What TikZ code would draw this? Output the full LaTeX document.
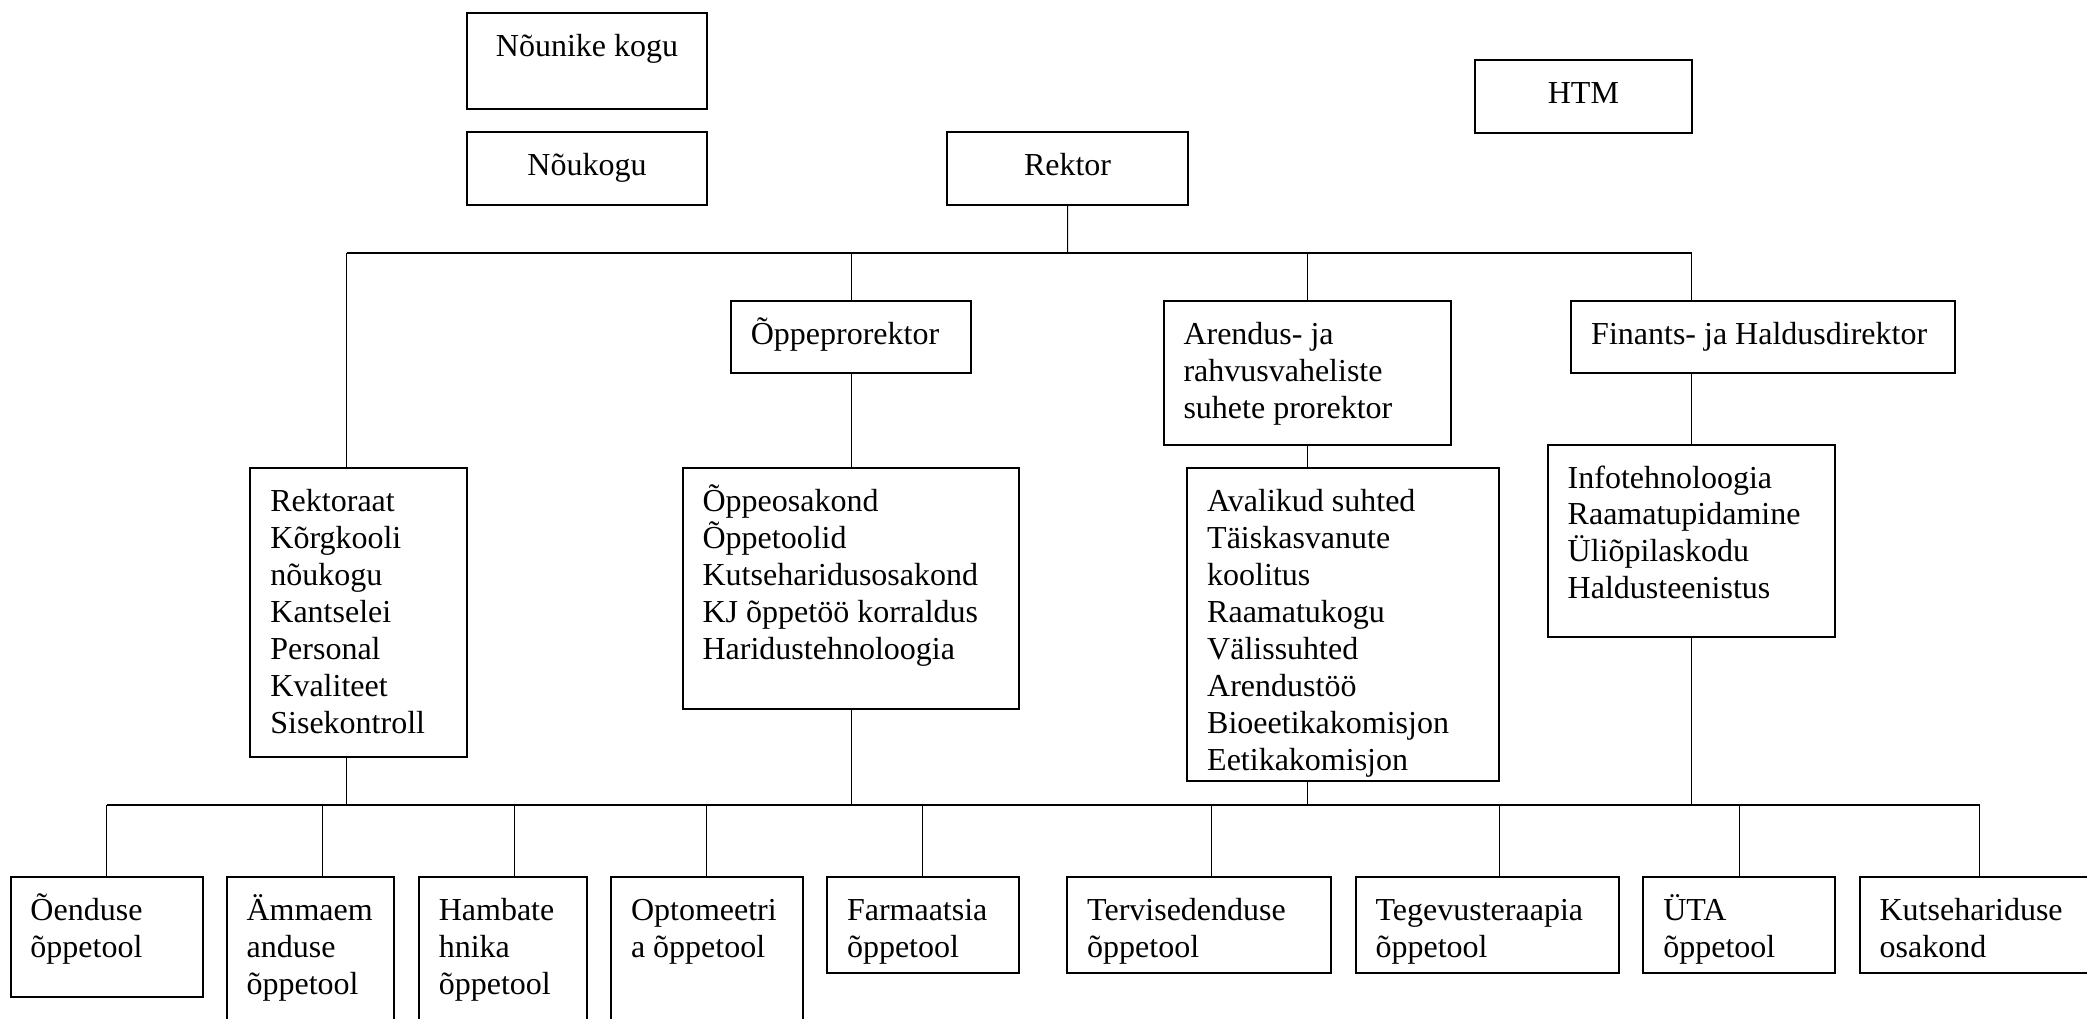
\documentclass[tikz,border=0pt]{standalone}
\usepackage{fontspec}
\setmainfont{Liberation Serif}
\usetikzlibrary{calc}
\tikzset{
  box/.style={draw, line width=1pt, inner sep=0pt, outer sep=0pt, anchor=north west},
  txt/.style={inner sep=0pt, outer sep=0pt, anchor=base west},
  ctxt/.style={inner sep=0pt, outer sep=0pt, anchor=base},
  stem/.style={line width=0.5pt},
  bus/.style={line width=1pt},
}
\newcommand\obox[5]{\node[box, minimum width={(#4-#2)*0.5pt}, minimum height={(#5-#3)*0.5pt}] (#1) at (#2,#3) {};}
\newcommand\mlines[1]{\parbox[t]{9cm}{\raggedright\fontsize{16pt}{18.45pt}\selectfont #1}}
\newcommand\ltext[2]{\node[txt] (#1t) at ($(#1.north west)+(20,43.5)$) {\mlines{#2}};}
\newcommand\ctext[2]{\node[ctxt, font=\fontsize{16pt}{18.45pt}\selectfont] (#1t) at ($(#1.north)+(0,43.5)$) {#2};}
\begin{document}
\begin{tikzpicture}[x=0.5pt,y=-0.5pt]
\useasboundingbox (0,0) rectangle (2087,1018);
\clip (0,0) rectangle (2087,1018);
% top boxes
\obox{nounike}{467}{12.5}{707}{108.7}
\ctext{nounike}{Nõunike kogu}
\obox{noukogu}{467}{132.3}{707}{205}
\ctext{noukogu}{Nõukogu}
\obox{rektor}{947.4}{132.3}{1187.7}{205}
\ctext{rektor}{Rektor}
\obox{htm}{1475}{60.3}{1691.8}{133}
\ctext{htm}{HTM}
% second level
\obox{opperek}{730.8}{300.7}{971.2}{373}
\ltext{opperek}{Õppeprorektor}
\obox{arendus}{1163.5}{300.7}{1451.3}{444.5}
\ltext{arendus}{Arendus- ja\\rahvusvaheliste\\suhete prorektor}
\obox{finants}{1571.2}{300.7}{1955.3}{373}
\ltext{finants}{Finants- ja Haldusdirektor}
% third level
\obox{rektoraat}{250.4}{468.4}{466.5}{756.6}
\ltext{rektoraat}{Rektoraat\\Kõrgkooli\\nõukogu\\Kantselei\\Personal\\Kvaliteet\\Sisekontroll}
\obox{oppeosak}{682.6}{468.4}{1018.6}{708.7}
\ltext{oppeosak}{Õppeosakond\\Õppetoolid\\Kutseharidusosakond\\KJ õppetöö korraldus\\Haridustehnoloogia}
\obox{avalikud}{1187.2}{468.4}{1499.1}{781}
\ltext{avalikud}{Avalikud suhted\\Täiskasvanute\\koolitus\\Raamatukogu\\Välissuhted\\Arendustöö\\Bioeetikakomisjon\\Eetikakomisjon}
\obox{info}{1547.7}{444.5}{1835.4}{636.8}
\ltext{info}{Infotehnoloogia\\Raamatupidamine\\Üliõpilaskodu\\Haldusteenistus}
% bottom level
\obox{oenduse}{10.5}{876.8}{202.7}{996.6}
\ltext{oenduse}{Õenduse\\õppetool}
\obox{ammaem}{226.6}{876.8}{394.2}{1030}
\ltext{ammaem}{Ämmaem\\anduse\\õppetool}
\obox{hambate}{418.8}{876.8}{586.5}{1030}
\ltext{hambate}{Hambate\\hnika\\õppetool}
\obox{opto}{611}{876.8}{802.5}{1030}
\ltext{opto}{Optomeetri\\a õppetool}
\obox{farm}{827}{876.8}{1018.6}{972.6}
\ltext{farm}{Farmaatsia\\õppetool}
\obox{tervis}{1067.2}{876.8}{1330.7}{972.6}
\ltext{tervis}{Tervisedenduse\\õppetool}
\obox{tegevus}{1355.6}{876.8}{1619.1}{972.6}
\ltext{tegevus}{Tegevusteraapia\\õppetool}
\obox{uta}{1643.3}{876.8}{1835.4}{972.6}
\ltext{uta}{ÜTA\\õppetool}
\obox{kutse}{1859.6}{876.8}{2100}{972.6}
\ltext{kutse}{Kutsehariduse\\osakond}
% top bus junctions
\coordinate (tA) at (346.6,252.7);
\coordinate (tR) at (1067.6,252.7);
\coordinate (tB) at (851,252.7);
\coordinate (tC) at (1307.2,252.7);
\coordinate (tD) at (1691.8,252.7);
\draw[bus] (tA) -- (tD);
\draw[stem] (rektor.south) -- (tR);
\draw[stem] (tA) -- (rektoraat.north -| tA);
\draw[stem] (tB) -- (opperek.north -| tB);
\draw[stem] (tC) -- (arendus.north -| tC);
\draw[stem] (tD) -- (finants.north -| tD);
\draw[stem] (opperek.south -| tB) -- (oppeosak.north -| tB);
\draw[stem] (arendus.south -| tC) -- (avalikud.north -| tC);
\draw[stem] (finants.south -| tD) -- (info.north -| tD);
% bottom bus
\coordinate (bL) at (106.6,805);
\coordinate (bR) at (1979.5,805);
\draw[bus] (bL) -- (bR);
\draw[stem] (rektoraat.south -| tA) -- (bL -| tA);
\draw[stem] (oppeosak.south -| tB) -- (bL -| tB);
\draw[stem] (avalikud.south -| tC) -- (bL -| tC);
\draw[stem] (info.south -| tD) -- (bL -| tD);
\coordinate (s1) at (106.6,805);
\coordinate (s2) at (322.7,805);
\coordinate (s3) at (514.9,805);
\coordinate (s4) at (706.4,805);
\coordinate (s5) at (922.5,805);
\coordinate (s6) at (1211.4,805);
\coordinate (s7) at (1499.1,805);
\coordinate (s8) at (1739.7,805);
\coordinate (s9) at (1979.5,805);
\draw[stem] (s1) -- (oenduse.north -| s1);
\draw[stem] (s2) -- (ammaem.north -| s2);
\draw[stem] (s3) -- (hambate.north -| s3);
\draw[stem] (s4) -- (opto.north -| s4);
\draw[stem] (s5) -- (farm.north -| s5);
\draw[stem] (s6) -- (tervis.north -| s6);
\draw[stem] (s7) -- (tegevus.north -| s7);
\draw[stem] (s8) -- (uta.north -| s8);
\draw[stem] (s9) -- (kutse.north -| s9);
\end{tikzpicture}
\end{document}
